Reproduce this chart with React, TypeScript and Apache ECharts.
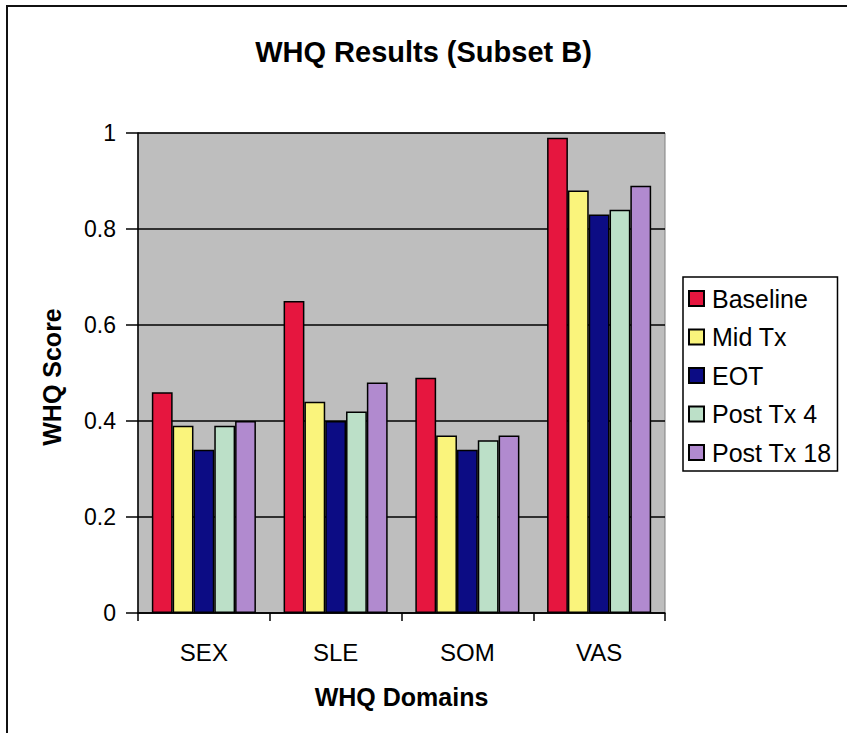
import React, { useEffect, useRef } from "react";
import * as echarts from "echarts";

const categories = ["SEX", "SLE", "SOM", "VAS"];
const seriesNames = ["Baseline", "Mid Tx", "EOT", "Post Tx 4", "Post Tx 18"];
const baseline = [0.46, 0.65, 0.49, 0.99];
const midTx = [0.39, 0.44, 0.37, 0.88];
const eot = [0.34, 0.4, 0.34, 0.83];
const postTx4 = [0.39, 0.42, 0.36, 0.84];
const postTx18 = [0.4, 0.48, 0.37, 0.89];
const seriesValues = [baseline, midTx, eot, postTx4, postTx18];
const seriesColors = ["#E6163F", "#FAF47C", "#0C0C84", "#BCE0C8", "#B18ACF"];
const yTicks = [0, 0.2, 0.4, 0.6, 0.8, 1];

const FONT = "Arial, 'Liberation Sans', sans-serif";

export default function App() {
  const ref = useRef<HTMLDivElement>(null);
  useEffect(() => {
    if (!ref.current) return;
    const chart = echarts.init(ref.current, undefined, { renderer: "svg" });
    chart.setOption({
      animation: false,
      backgroundColor: "#ffffff",
      title: {
        text: "WHQ Results (Subset B)",
        left: "center",
        top: 32,
        textStyle: { fontFamily: FONT, fontSize: 29, fontWeight: "bold", color: "#000" },
      },
      graphic: [
        {
          type: "rect",
          shape: { x: 7, y: 6, width: 900, height: 800 },
          style: { fill: "none", stroke: "#111", lineWidth: 2 },
          silent: true,
        },
      ],
      legend: {
        orient: "vertical",
        left: 683,
        top: 277,
        data: seriesNames,
        icon: "rect",
        itemWidth: 15,
        itemHeight: 15,
        itemGap: 13.5,
        padding: [9, 6, 6, 5],
        borderColor: "#000",
        borderWidth: 1.5,
        textStyle: { fontFamily: FONT, fontSize: 25, color: "#000", padding: [0, 0, 0, 3] },
      },
      grid: {
        left: 138,
        top: 133,
        right: 182,
        bottom: 120,
        show: true,
        backgroundColor: "#BEBEBE",
        borderColor: "#808080",
        borderWidth: 1,
      },
      xAxis: {
        type: "category",
        data: categories,
        name: "WHQ Domains",
        nameLocation: "middle",
        nameGap: 71,
        nameTextStyle: { fontFamily: FONT, fontSize: 25, fontWeight: "bold", color: "#000" },
        axisLine: { lineStyle: { color: "#000", width: 1.5 } },
        axisTick: { show: true, length: 8, lineStyle: { color: "#000", width: 1.5 } },
        axisLabel: { fontFamily: FONT, fontSize: 24, color: "#000", margin: 27 },
      },
      yAxis: {
        type: "value",
        min: 0,
        max: 1,
        interval: 0.2,
        name: "WHQ Score",
        nameLocation: "middle",
        nameGap: 74,
        nameTextStyle: { fontFamily: FONT, fontSize: 25, fontWeight: "bold", color: "#000", padding: [0, 0, 0, -8] },
        axisLine: { show: true, lineStyle: { color: "#000", width: 1.5 } },
        axisTick: { show: true, length: 12, lineStyle: { color: "#000", width: 1.5 } },
        axisLabel: {
          fontFamily: FONT,
          fontSize: 23,
          color: "#000",
          margin: 22,
          formatter: (v: number) => {
            const t = yTicks.find((x) => Math.abs(x - v) < 1e-9);
            return t === undefined ? "" : String(t);
          },
        },
        splitLine: { show: true, lineStyle: { color: "#000", width: 1.5 } },
      },
      series: seriesNames.map((name, i) => ({
        name,
        type: "bar",
        data: seriesValues[i],
        barGap: "0%",
        barCategoryGap: "21%",
        itemStyle: { color: seriesColors[i], borderColor: "#000", borderWidth: 1.5 },
      })),
    });
    return () => chart.dispose();
  }, []);
  return (
    <div
      ref={ref}
      style={{ position: "absolute", left: 0, top: 0, width: 847, height: 733 }}
    />
  );
}
